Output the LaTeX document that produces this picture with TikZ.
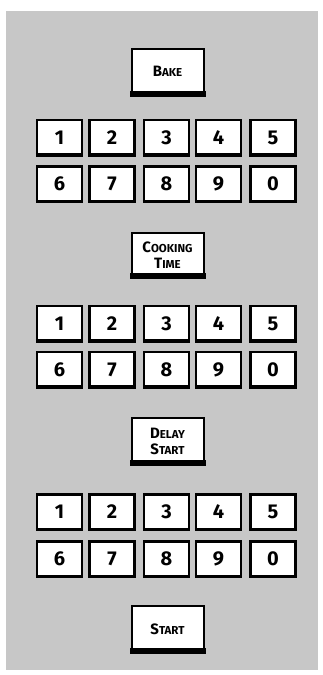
\documentclass[tikz,border=0pt]{standalone}
\usepackage{fontspec}
\setmainfont{Fira Sans}
\newcommand\capsm[2]{{\fontsize{15}{16}\selectfont #1}{\fontsize{11.5}{16}\selectfont #2}}
\tikzset{
  panelbg/.style={fill=black!22, draw=none},
  keybox/.style={draw=black, fill=white, line width=2.2pt, minimum width=45pt,
    minimum height=35pt, inner sep=0pt, font=\fontsize{20}{20}\selectfont\bfseries},
  btnbox/.style={draw=black, fill=white, line width=2pt, minimum width=72pt,
    inner sep=0pt, align=center, font=\fontsize{13}{16}\selectfont\bfseries},
  btnbar/.style={fill=black, draw=none},
  keybar/.style={draw=black, line width=3.5pt},
}
\begin{document}
\begin{tikzpicture}[x=1pt,y=-1pt]
\useasboundingbox (0,0) rectangle (323,675);
\fill[panelbg] (6,11) rectangle (318,670);
% buttons
\foreach \nm/\cy/\h/\txt in {bake/71.5/46/{\capsm{B}{AKE}},
  cook/255/44/{\capsm{C}{OOKING}\\\capsm{T}{IME}},
  delay/441/46/{\capsm{D}{ELAY}\\\capsm{S}{TART}},
  start/629/46/{\capsm{S}{TART}}}{
  \node[btnbox, minimum height=\h pt] (\nm) at (167.5,\cy) {\txt};
  \fill[btnbar] ([xshift=-1pt,yshift=-1pt]\nm.south west) rectangle ([xshift=1pt,yshift=5pt]\nm.south east);
}
% keypads
\foreach \s/\ya/\yb in {1/137.5/184, 2/323.5/369.5, 3/512/559}{
  \foreach \d [count=\i] in {1,2,3,4,5}{
    \pgfmathsetmacro\cx{{59.5,112,166.5,218.5,273}[\i-1]}
    \node[keybox] (k\s a\i) at (\cx,\ya) {\d};
    \draw[keybar] ([yshift=1pt]k\s a\i.south west) -- ([yshift=1pt]k\s a\i.south east);
  }
  \foreach \d [count=\i] in {6,7,8,9,0}{
    \pgfmathsetmacro\cx{{59.5,112,166.5,218.5,273}[\i-1]}
    \node[keybox] (k\s b\i) at (\cx,\yb) {\d};
    \draw[keybar] ([yshift=1pt]k\s b\i.south west) -- ([yshift=1pt]k\s b\i.south east);
  }
}
\end{tikzpicture}
\end{document}
